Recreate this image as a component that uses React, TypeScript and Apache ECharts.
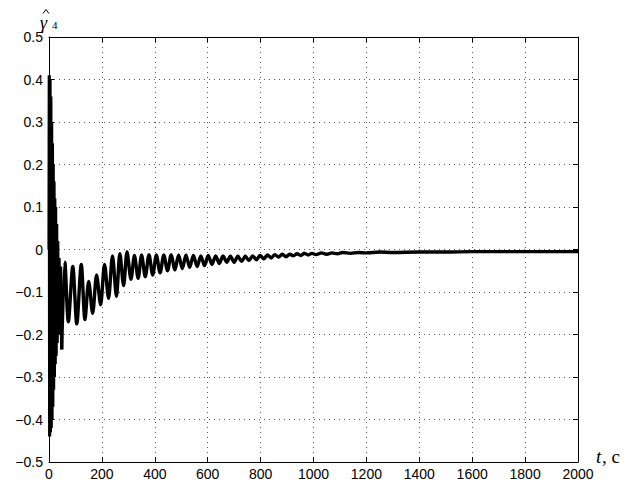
import React, { useEffect, useRef } from "react";
import * as echarts from "echarts";

// time, s
const timeSec = [
  0, 1, 2.5, 4, 5.5, 7, 8.5, 10, 11.5, 13, 14.5, 16, 17.5, 19, 20.5, 22, 23.5, 25, 27, 29, 31, 33, 35.5, 38, 41, 44,
  48, 60, 73, 90, 105, 122, 136, 150, 165, 180, 195, 210, 225, 240, 255, 268, 282, 295, 310, 323, 337, 350, 364,
  378, 392, 406, 420, 434, 448, 462, 476, 490, 504, 518, 532, 546, 560, 574, 588, 602, 616, 630, 644, 658, 672,
  686, 700, 714, 728, 742, 756, 770, 784, 798, 812, 826, 840, 854, 868, 882, 896, 910, 924, 938, 952, 966, 980,
  994, 1010, 1030, 1050, 1070, 1090, 1110, 1140, 1170, 1200, 1250, 1300, 1400, 1500, 1600, 1700, 1800, 1900, 2000,
];

// estimated gamma_4 hat values
const gamma4 = [
  0.0, 0.41, -0.44, 0.4, -0.43, 0.36, -0.42, 0.3, -0.4, 0.25, -0.37, 0.2, -0.33, 0.16, -0.3, 0.12, -0.27, 0.1, -0.25,
  0.06, -0.22, 0.02, -0.2, -0.02, -0.19, -0.04,
  -0.235, -0.03, -0.17, -0.04, -0.175, -0.035, -0.165, -0.075, -0.15, -0.06, -0.13, -0.035, -0.115, -0.015, -0.11,
  -0.01, -0.085, -0.006, -0.07, -0.014, -0.068, -0.013, -0.064, -0.012, -0.06, -0.013, -0.055, -0.013, -0.05,
  -0.012, -0.048, -0.013, -0.045, -0.013, -0.042, -0.014, -0.04, -0.015, -0.038, -0.014, -0.035, -0.015, -0.033,
  -0.015, -0.03, -0.016, -0.03, -0.016, -0.028, -0.016, -0.026, -0.015, -0.024, -0.014, -0.022, -0.013, -0.02,
  -0.012, -0.018, -0.011, -0.017, -0.011, -0.015, -0.01, -0.014, -0.009, -0.013, -0.009, -0.012, -0.008, -0.011,
  -0.008, -0.01, -0.007, -0.009, -0.007, -0.008, -0.006, -0.007, -0.006, -0.006, -0.005, -0.005, -0.005, -0.005,
  -0.005,
];

// index where the fast initial transient ends (t = 48 s)
const transientEnd = 26;

const xTicksInterval = 200;
const yTicksInterval = 0.1;

const FONT = "'Liberation Sans', Arial, Helvetica, sans-serif";
const SERIF = "'Liberation Serif', 'Times New Roman', serif";

function fmtY(v: number): string {
  const r = Math.round(v * 10) / 10;
  if (Math.abs(r) < 1e-9) return "0";
  const s = Math.abs(r).toFixed(1);
  return r < 0 ? "\u2212" + s : s;
}

export default function App() {
  const ref = useRef<HTMLDivElement>(null);
  useEffect(() => {
    if (!ref.current) return;
    const chart = echarts.init(ref.current, undefined, { renderer: "svg" });
    const data = timeSec.map((t, i) => [t, gamma4[i]]);
    const early = data.slice(0, transientEnd + 1);
    const late = data.slice(transientEnd);
    const gridLine = { show: true, lineStyle: { color: "#555", type: [1, 4] as any, width: 1 } };
    const tick = { show: true, inside: true, length: 5, lineStyle: { color: "#000", width: 1 } };
    const axisLine = { show: true, onZero: false, lineStyle: { color: "#000", width: 1 } };
    chart.setOption({
      animation: false,
      backgroundColor: "#fff",
      grid: { left: 49, right: 65, top: 37, bottom: 24, containLabel: false },
      xAxis: [
        {
          type: "value",
          min: 0,
          max: 2000,
          interval: xTicksInterval,
          axisLine,
          axisTick: tick,
          axisLabel: {
            color: "#000",
            fontFamily: FONT,
            fontSize: 14,
            margin: 5,
            formatter: (v: number) => String(Math.round(v)),
          },
          splitLine: gridLine,
        },
        {
          type: "value",
          position: "top",
          min: 0,
          max: 2000,
          interval: xTicksInterval,
          axisLine,
          axisTick: tick,
          axisLabel: { show: false },
          splitLine: { show: false },
        },
      ],
      yAxis: [
        {
          type: "value",
          min: -0.5,
          max: 0.5,
          interval: yTicksInterval,
          axisLine,
          axisTick: tick,
          axisLabel: { color: "#000", fontFamily: FONT, fontSize: 14, margin: 6, formatter: fmtY },
          splitLine: gridLine,
        },
        {
          type: "value",
          position: "right",
          min: -0.5,
          max: 0.5,
          interval: yTicksInterval,
          axisLine,
          axisTick: tick,
          axisLabel: { show: false },
          splitLine: { show: false },
        },
      ],
      series: [
        {
          type: "line",
          data: early,
          showSymbol: false,
          symbol: "none",
          lineStyle: { color: "#000", width: 3.2 },
          clip: true,
        },
        {
          type: "line",
          data: late,
          showSymbol: false,
          symbol: "none",
          smooth: 0.3,
          lineStyle: { color: "#000", width: 3.4 },
          clip: true,
        },
      ],
      graphic: [
        {
          type: "polyline",
          shape: { points: [[43, 13.5], [46, 9.5], [49, 13.5]] },
          style: { stroke: "#000", lineWidth: 1, fill: "none" },
        },
        {
          type: "text",
          left: 40,
          top: 14,
          style: { text: "\u03b3", font: `italic 18px ${SERIF}`, lineHeight: 12, fill: "#000" },
        },
        {
          type: "text",
          left: 52,
          top: 19,
          style: { text: "4", font: `11px ${SERIF}`, lineHeight: 10, fill: "#000" },
        },
        {
          type: "text",
          left: 596,
          top: 447,
          style: { text: "t", font: `italic 19px ${SERIF}`, fill: "#000" },
        },
        {
          type: "text",
          left: 602,
          top: 447,
          style: { text: ", c", font: `19px ${SERIF}`, fill: "#000" },
        },
      ],
    });
    return () => chart.dispose();
  }, []);
  return (
    <div
      ref={ref}
      style={{ position: "fixed", left: 0, top: 0, width: 643, height: 486, background: "#fff" }}
    />
  );
}
